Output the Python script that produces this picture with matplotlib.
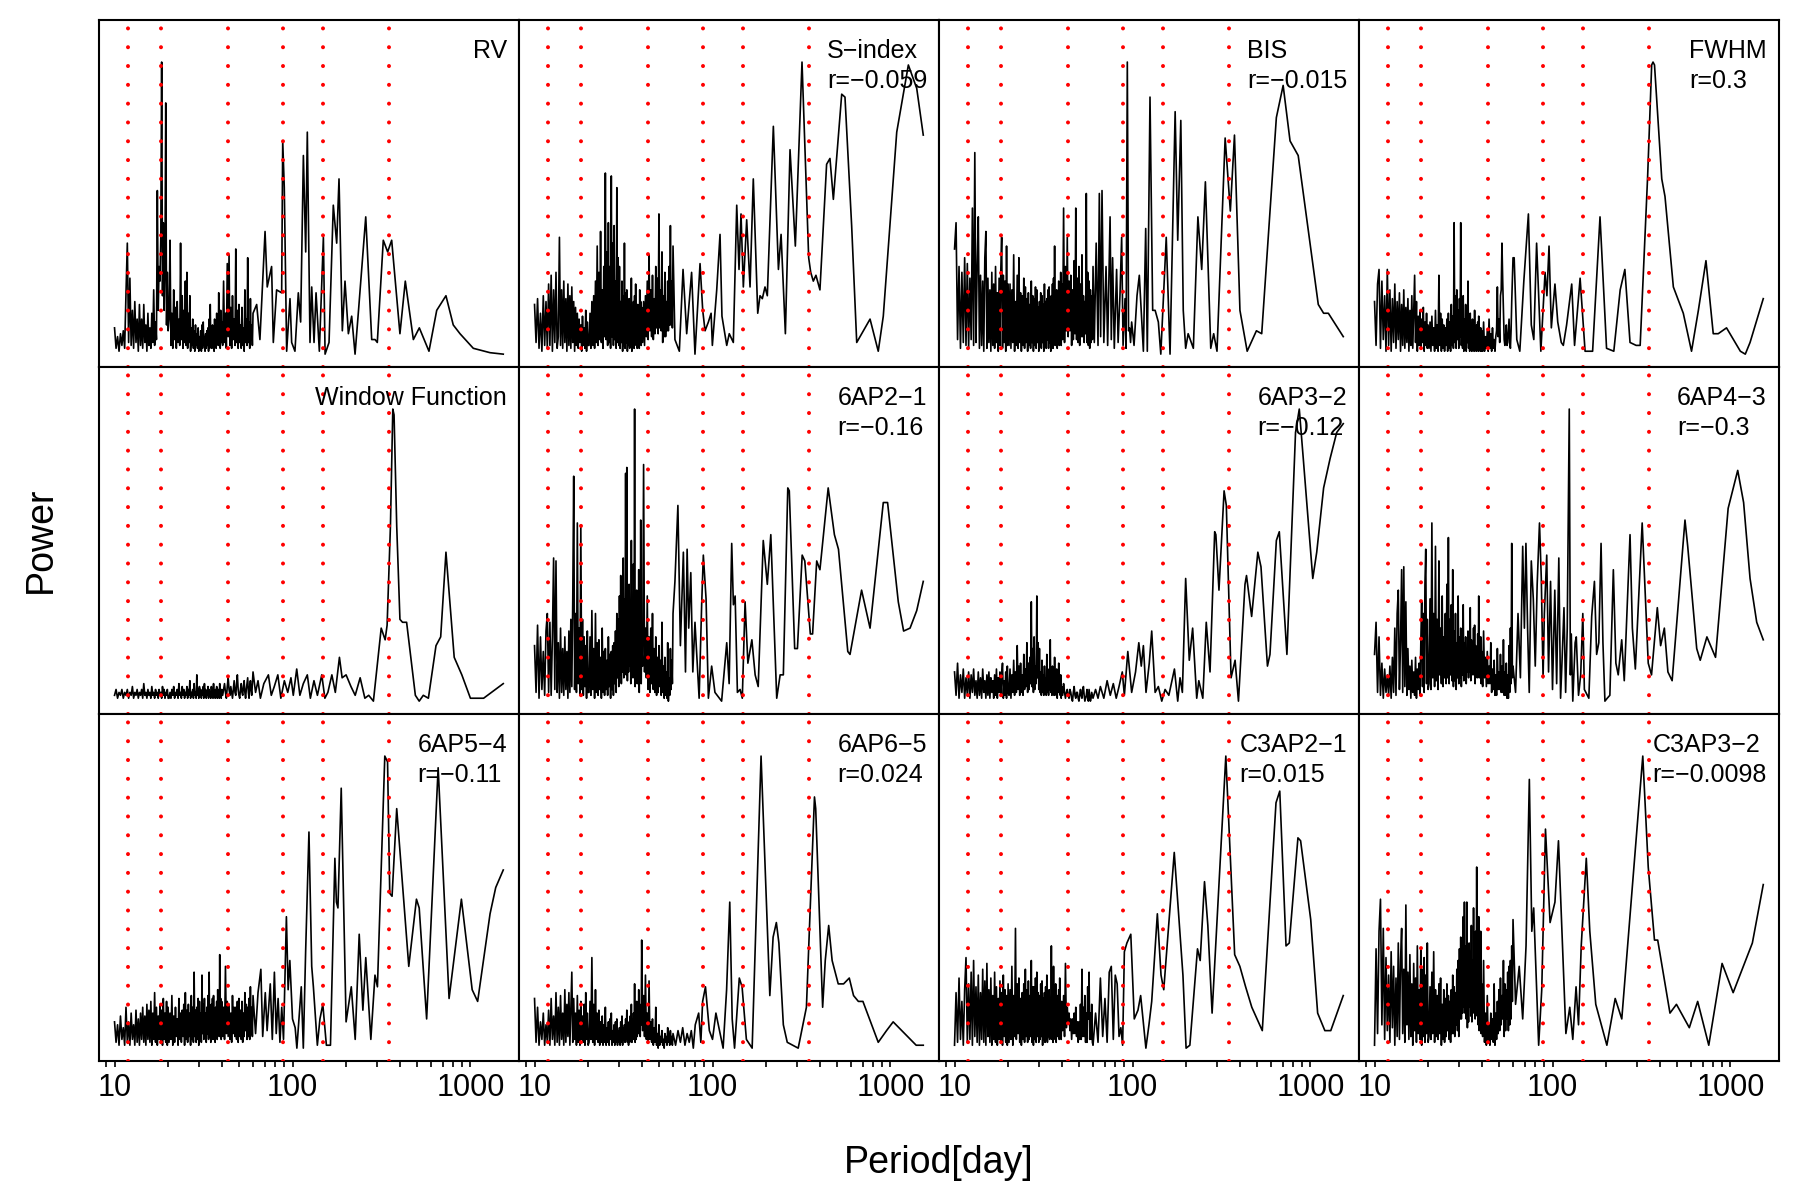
import matplotlib
matplotlib.use("Agg")
import matplotlib.pyplot as plt
from matplotlib.ticker import LogLocator, NullFormatter

plt.rcParams['font.family'] = ['Liberation Sans', 'DejaVu Sans']

# shared short-period grid (days)
fine_p = [10.0, 10.2, 10.4, 10.6, 10.8, 11.0, 11.2, 11.4, 11.6, 11.8,
          12.0, 12.2, 12.4, 12.6, 12.8, 13.0, 13.2, 13.4, 13.6, 13.8,
          14.0, 14.2, 14.4, 14.6, 14.8, 15.0, 15.2, 15.4, 15.6, 15.8,
          16.0, 16.2, 16.4, 16.6, 16.8, 17.0, 17.2, 17.4, 17.6, 17.8,
          18.0, 18.2, 18.4, 18.6, 18.8, 19.0, 19.2, 19.4, 19.6, 19.8, 20.0,
          20.25, 20.5, 20.75, 21.0, 21.25, 21.5, 21.75, 22.0, 22.25, 22.5,
          22.75, 23.0, 23.25, 23.5, 23.75, 24.0, 24.25, 24.5, 24.75, 25.0,
          25.25, 25.5, 25.75, 26.0, 26.25, 26.5, 26.75, 27.0, 27.25, 27.5,
          27.75, 28.0, 28.25, 28.5, 28.75, 29.0, 29.25, 29.5, 29.75, 30.0,
          30.25, 30.5, 30.75, 31.0, 31.25, 31.5, 31.75, 32.0, 32.25, 32.5,
          32.75, 33.0, 33.25, 33.5, 33.75, 34.0, 34.25, 34.5, 34.75, 35.0,
          35.25, 35.5, 35.75, 36.0, 36.25, 36.5, 36.75, 37.0, 37.25, 37.5,
          37.75, 38.0, 38.25, 38.5, 38.75, 39.0, 39.25, 39.5, 39.75, 40.0,
          40.5, 41, 41.5, 42, 42.5, 43, 43.5, 44, 44.5, 45,
          45.5, 46, 46.5, 47, 47.5, 48, 48.5, 49, 49.5, 50,
          50.5, 51, 51.5, 52, 52.5, 53, 53.5, 54, 54.5, 55,
          55.5, 56, 56.5, 57, 57.5, 58, 58.5, 59, 59.5, 60]

# red dotted reference periods
mark_p = [11.9, 18.35, 43.6, 88.0, 148.5, 347]

# power in % of panel maximum
rv_fine = [9, 2, 6, 1, 7, 3, 8, 2, 21, 38,
           4, 26, 3, 15, 2, 18, 4, 12, 1, 17,
           3, 12, 2, 17, 4, 10, 1, 14, 3, 9,
           2, 14, 4, 22, 3, 11, 5, 56, 15, 30,
           25, 40, 100, 20, 45, 15, 30, 86, 10, 28, 8,
           12, 39, 3, 14, 2, 22, 5, 16, 2, 18,
           4, 12, 3, 38, 5, 20, 2, 15, 4, 25,
           3, 28, 2, 14, 4, 20, 1, 9, 3, 12,
           2, 8, 1, 10, 3, 7, 2, 9, 1, 6,
           2, 8, 1, 10, 2, 11, 3, 6, 1, 7,
           2, 8, 3, 9, 1, 12, 2, 17, 3, 9,
           2, 10, 4, 8, 1, 12, 3, 11, 2, 14,
           4, 10, 3, 21, 5, 13, 2, 15, 4, 11,
           3, 25, 4, 14, 2, 31, 6, 34, 3, 16,
           2, 20, 5, 12, 3, 36, 4, 15, 2, 17,
           4, 10, 2, 16, 3, 9, 1, 22, 4, 12,
           3, 33, 4, 11, 2, 19, 5, 10, 3, 14]
rv_long = [(62.9, 17), (65.6, 5), (70.1, 42), (72.1, 23), (76.3, 30), (78.0, 4), (81.4, 22),
           (86.9, 21), (88.1, 73), (89.9, 57), (92.7, 1), (96.8, 19), (98.9, 4), (103.2, 1),
           (107.8, 21), (111.1, 11), (115.1, 68), (118.6, 35), (121.1, 76), (125.4, 4), (128.2, 23),
           (132.1, 4), (135.6, 21), (141.5, 1), (149.1, 40), (152.4, 0), (160.4, 4), (169.5, 51),
           (177.1, 38), (182.5, 60), (190.5, 8), (197.2, 25), (206, 7), (215, 13), (224.6, 0),
           (235.6, 16), (257.9, 47), (278.6, 5), (290.9, 5), (299.5, 4), (323.6, 39), (342.4, 35),
           (360.7, 39), (401.4, 7), (430.2, 25), (477.5, 5), (515.8, 9), (584.4, 1), (646, 15),
           (728, 20), (800, 10), (873, 7), (1037, 2), (1288, 0.5), (1528, 0)]

sidx_fine = [17, 4, 19, 2, 14, 1, 20, 3, 18, 2,
             24, 3, 27, 1, 22, 4, 28, 2, 6, 40,
             3, 22, 2, 25, 4, 19, 1, 24, 3, 20,
             2, 23, 4, 18, 1, 16, 3, 14, 2, 12,
             4, 10, 1, 13, 3, 9, 2, 15, 1, 11, 3,
             3, 14, 2, 18, 3, 20, 2, 25, 4, 37,
             3, 28, 5, 42, 4, 22, 2, 30, 6, 62,
             5, 35, 3, 45, 4, 30, 2, 61, 6, 38,
             3, 44, 5, 25, 2, 57, 4, 33, 3, 30,
             2, 18, 4, 25, 1, 20, 3, 38, 2, 21,
             4, 22, 1, 15, 3, 19, 2, 14, 4, 26,
             1, 16, 3, 18, 2, 20, 4, 24, 3, 15,
             2, 17, 4, 13, 2, 22, 5, 18, 3, 16,
             4, 18, 3, 20, 6, 25, 5, 34, 8, 22,
             6, 27, 5, 19, 7, 30, 9, 26, 7, 48,
             9, 22, 8, 35, 4, 20, 6, 28, 6, 18,
             8, 25, 8, 30, 10, 44, 10, 25, 9, 37]
sidx_long = [(61.5, 5), (65.1, 1), (68.3, 29), (71.6, 7), (76.3, 28), (79.7, 0), (85.1, 31),
             (88.1, 15), (90.8, 8), (94.8, 11), (98.2, 14), (99.8, 3), (105.6, 22), (110.2, 41),
             (113, 13), (120.2, 3), (124.2, 7), (130.9, 4), (136.8, 51), (140.9, 29), (144.6, 48),
             (149, 23), (155.6, 46), (162.5, 23), (169.5, 60), (179.5, 14), (184.9, 20), (190.5, 19),
             (197.2, 23), (203.2, 20), (219.7, 78), (234.6, 29), (242.8, 41), (256.7, 7), (272.6, 70),
             (292, 37), (318.3, 100), (347, 33), (356.3, 28), (368.4, 25), (381.2, 27), (401.4, 22),
             (437.6, 65), (457, 67), (477.5, 53), (532, 89), (555, 88), (605, 44), (646, 4),
             (767.6, 12), (853.5, 1), (911, 13), (1084, 76), (1260, 99), (1404, 91), (1528, 75)]

bis_fine = [36, 45, 5, 30, 2, 28, 4, 33, 3, 31,
            2, 26, 5, 50, 3, 69, 4, 30, 47, 2,
            27, 3, 25, 1, 33, 42, 2, 26, 4, 22,
            1, 28, 3, 24, 2, 30, 4, 21, 1, 26,
            3, 29, 40, 2, 27, 4, 25, 1, 37, 3, 24,
            3, 24, 2, 22, 4, 34, 1, 18, 3, 27,
            2, 33, 4, 21, 1, 20, 3, 26, 2, 23,
            4, 19, 1, 21, 3, 17, 2, 25, 4, 20,
            1, 19, 3, 23, 2, 22, 4, 16, 1, 18,
            3, 21, 2, 20, 4, 17, 1, 24, 3, 18,
            2, 19, 5, 22, 2, 23, 4, 18, 1, 20,
            3, 24, 2, 26, 5, 37, 3, 20, 4, 22,
            2, 19, 6, 25, 3, 21, 5, 28, 3, 24,
            5, 50, 4, 30, 8, 40, 6, 25, 8, 27,
            3, 22, 5, 32, 7, 50, 5, 26, 4, 30,
            3, 24, 6, 34, 6, 20, 4, 18, 7, 55,
            4, 28, 3, 25, 2, 22, 4, 20, 5, 30]
bis_long = [(61, 4), (62.5, 38), (64, 3), (65.1, 55), (66.2, 6), (67.4, 56), (69, 4), (71, 30),
            (72.5, 3), (74.8, 47), (76, 5), (77.3, 33), (79, 2), (81.4, 29), (83, 4), (85, 20),
            (86.9, 40), (88.5, 3), (90.8, 19), (92, 2), (93.5, 100), (95, 8), (96.2, 9), (97.5, 4),
            (98.9, 11), (102, 3), (106, 20), (109.2, 27), (115.1, 1), (118.6, 43), (121.1, 1),
            (125.4, 88), (129.8, 15), (134, 15), (139.7, 11), (144.2, 0), (154.7, 40), (162.5, 0),
            (173.6, 83), (179.5, 39), (186.8, 80), (192.8, 15), (198.9, 2), (205.4, 7), (219.7, 2),
            (233, 47), (244.8, 29), (256.7, 59), (275.2, 2), (285.8, 7), (298.3, 1), (331.5, 74),
            (354.5, 49), (374, 75), (401.4, 15), (440.8, 1), (496.8, 8), (532, 7), (643, 81),
            (702, 92), (767.6, 73), (853, 68), (1106, 17), (1185, 14), (1260, 14), (1528, 6)]

fwhm_fine = [18, 3, 24, 29, 2, 25, 5, 20, 1, 29,
             3, 22, 1, 19, 4, 24, 2, 18, 5, 21,
             1, 17, 3, 22, 2, 16, 4, 19, 1, 15,
             3, 20, 2, 14, 27, 4, 18, 1, 13, 3,
             15, 2, 12, 4, 16, 1, 11, 3, 14, 2, 10,
             2, 11, 1, 13, 3, 9, 1, 15, 2, 10,
             1, 27, 3, 14, 1, 12, 2, 10, 1, 9,
             3, 12, 1, 14, 2, 11, 1, 17, 3, 13,
             2, 45, 4, 20, 2, 22, 5, 15, 2, 19,
             6, 45, 3, 18, 2, 20, 1, 12, 3, 17,
             1, 14, 4, 25, 2, 11, 1, 14, 3, 10,
             1, 12, 2, 9, 1, 15, 2, 8, 1, 10,
             2, 11, 1, 13, 2, 7, 1, 9, 1, 8,
             1, 11, 1, 6, 2, 8, 1, 12, 2, 7,
             1, 9, 2, 5, 1, 6, 8, 23, 6, 12,
             4, 20, 22, 38, 25, 15, 5, 3, 6, 10,
             3, 4, 8, 12, 4, 2, 8, 18, 26, 33]
fwhm_long = [(60.9, 33), (63, 5), (65.5, 1), (69, 25), (73.2, 48), (76, 10), (78.5, 5), (81.4, 38),
             (86, 1), (90.8, 28), (93, 20), (95.6, 37), (98.5, 9), (103.2, 24), (107, 11), (112, 4),
             (115, 3), (120, 10), (128.2, 24), (133, 3), (142.9, 26), (152.4, 1), (168, 1),
             (184.9, 47), (201.2, 2), (221, 1), (240, 22), (255, 29), (272.6, 4), (295, 3),
             (310.8, 3), (342.4, 61), (360.7, 99), (367, 100), (374.2, 99), (411, 60), (428.5, 54),
             (477.5, 23), (543, 14), (604, 1), (660, 15), (728, 32), (800, 7), (853, 7), (950, 9),
             (1136, 1), (1211, 0), (1288, 4), (1528, 19)]

win_fine = [2, 4, 1, 3, 2, 4, 1, 3, 2, 4,
            1, 3, 2, 5, 1, 3, 2, 4, 1, 3,
            2, 4, 1, 6, 2, 3, 1, 4, 2, 3,
            1, 5, 2, 3, 1, 4, 2, 3, 1, 4,
            2, 3, 1, 5, 2, 4, 1, 3, 2, 4, 1,
            1, 3, 1, 4, 2, 5, 1, 3, 2, 4,
            1, 6, 2, 3, 1, 5, 2, 4, 1, 3,
            2, 5, 1, 4, 2, 7, 1, 3, 2, 4,
            1, 6, 2, 3, 1, 9, 2, 4, 1, 5,
            2, 4, 1, 3, 2, 5, 1, 6, 2, 4,
            1, 3, 2, 5, 1, 4, 2, 3, 1, 5,
            2, 4, 1, 6, 2, 3, 1, 4, 2, 5,
            1, 3, 2, 4, 1, 6, 2, 3, 1, 4,
            2, 4, 6, 3, 1, 5, 8, 4, 2, 5,
            3, 1, 4, 7, 3, 2, 6, 9, 4, 2,
            1, 4, 6, 3, 2, 5, 7, 3, 1, 4,
            6, 8, 3, 1, 5, 7, 4, 2, 6, 10]
win_long = [(62, 3), (64, 7), (66, 1), (69, 6), (73.2, 9), (76, 2), (79, 5), (82.7, 9), (86, 1),
            (90, 7), (94, 3), (98, 8), (101, 2), (105.6, 11), (110, 2), (115, 6), (121.1, 9),
            (126, 1), (132, 7), (138, 2), (146, 9), (152, 1), (158, 3), (166.4, 9), (174, 3),
            (183.5, 15), (190, 8), (200, 9), (213, 5), (225, 2), (239.9, 8), (255, 1), (268, 2),
            (284.8, 0), (315, 25), (331.5, 21), (340, 26), (355, 60), (366, 100), (372, 98),
            (385, 60), (401.4, 28), (415, 27), (437.6, 27), (490, 2), (515, 0), (543, 2), (580, 1),
            (640, 19), (680, 22), (728, 51), (810, 15), (894, 9), (999, 1), (1185, 1), (1528, 6)]

ap21_fine = [19, 3, 26, 1, 22, 4, 17, 2, 24, 30,
             3, 27, 2, 22, 49, 4, 48, 3, 20, 1,
             25, 3, 18, 2, 22, 4, 17, 1, 24, 3,
             28, 5, 35, 77, 4, 30, 3, 61, 6, 25,
             2, 60, 4, 28, 2, 22, 5, 19, 1, 24, 3,
             3, 22, 2, 31, 4, 18, 1, 30, 3, 20,
             2, 21, 4, 15, 1, 25, 3, 17, 2, 18,
             4, 14, 2, 22, 5, 16, 1, 17, 4, 19,
             2, 20, 6, 24, 3, 30, 8, 28, 5, 36,
             9, 43, 6, 32, 10, 49, 8, 35, 12, 78,
             9, 80, 7, 38, 10, 40, 12, 33, 6, 55,
             9, 30, 8, 47, 12, 100, 5, 35, 10, 38,
             6, 28, 10, 45, 3, 30, 8, 62, 6, 20,
             12, 81, 10, 25, 8, 36, 4, 22, 3, 25,
             6, 30, 4, 18, 3, 22, 2, 15, 3, 19,
             5, 14, 2, 27, 3, 12, 1, 15, 2, 10,
             1, 20, 0, 8, 2, 18, 4, 14, 6, 30]
ap21_long = [(61.5, 41), (63.9, 67), (66, 19), (68.6, 51), (70.5, 10), (72, 52), (73.5, 25),
             (75.5, 44), (77.5, 10), (79.7, 27), (84.1, 1), (86.9, 33), (88.8, 50), (92, 35),
             (94.8, 1), (98.9, 12), (103.2, 3), (112.5, 0), (120.2, 20), (124, 6), (128.2, 54),
             (131, 33), (134, 36), (138, 3), (142.9, 4), (147, 1), (152.4, 34), (158, 13),
             (166.4, 21), (173.6, 9), (180.6, 5), (192.8, 55), (203.2, 40), (212.6, 57), (229.5, 1),
             (239.9, 9), (250, 9), (264.8, 73), (270, 72), (289.5, 18), (300, 18), (319, 50),
             (330, 48), (354.5, 23), (365, 23), (385, 48), (401.4, 45), (446.6, 73), (484, 57),
             (510.2, 52), (575.5, 17), (592.4, 16), (688, 38), (767.6, 25), (911, 68), (963, 68),
             (1106, 34), (1185, 24), (1288, 25), (1404, 31), (1528, 41)]

ap32_fine = [10, 2, 13, 1, 9, 3, 11, 1, 8, 2,
             10, 1, 9, 3, 11, 2, 7, 1, 10, 2,
             8, 1, 11, 3, 7, 1, 9, 2, 10, 1,
             8, 3, 7, 1, 9, 2, 11, 1, 8, 3,
             10, 2, 9, 13, 1, 7, 2, 10, 1, 12, 3,
             2, 11, 1, 9, 3, 14, 2, 10, 3, 19,
             4, 12, 2, 13, 3, 9, 2, 16, 4, 11,
             5, 20, 3, 13, 4, 15, 6, 34, 5, 18,
             3, 22, 4, 12, 6, 36, 8, 20, 4, 18,
             3, 10, 2, 14, 3, 9, 2, 12, 4, 8,
             2, 16, 3, 11, 2, 10, 4, 21, 3, 9,
             2, 12, 3, 8, 2, 15, 4, 9, 2, 11,
             1, 7, 3, 13, 3, 6, 2, 9, 1, 5,
             2, 6, 3, 1, 3, 4, 2, 1, 4, 3,
             1, 0, 3, 5, 2, 1, 3, 3, 1, 0,
             2, 4, 2, 1, 4, 5, 2, 0, 1, 2,
             4, 1, 0, 4, 2, 0, 1, 3, 2, 1]
ap32_long = [(62, 4), (64, 1), (66, 5), (69, 1), (72, 7), (75, 2), (78, 6), (81, 1), (84, 5),
             (87.6, 10), (90, 2), (94.1, 17), (98.9, 3), (104, 10), (108.5, 20), (112, 12),
             (115.1, 19), (119.1, 3), (124.2, 13), (128.2, 24), (134, 3), (139.7, 5), (146, 0),
             (152.4, 4), (160, 2), (172, 11), (179.5, 0), (184.9, 8), (190.6, 3), (198.9, 42),
             (208.4, 14), (217.7, 25), (229.5, 1), (235.8, 7), (248.3, 1), (259.6, 27), (272.6, 10),
             (289.5, 58), (294, 57), (306, 38), (327, 72), (336.6, 67), (357.9, 8), (377, 14),
             (393.8, 0), (428.5, 40), (437, 43), (467, 29), (506, 51), (527, 46), (573, 12),
             (592, 16), (643, 55), (668, 58), (737, 16), (824, 92), (865, 100), (911, 83),
             (1030, 42), (1084, 51), (1185, 73), (1288, 83), (1404, 92), (1528, 95)]

ap43_fine = [16, 27, 3, 22, 2, 13, 1, 11, 3, 9,
             2, 12, 1, 15, 3, 25, 2, 30, 38, 4,
             20, 45, 3, 46, 5, 34, 2, 18, 4, 12,
             1, 14, 3, 10, 2, 15, 1, 11, 4, 13,
             2, 20, 34, 5, 30, 3, 40, 52, 6, 28, 4,
             6, 35, 4, 61, 8, 30, 5, 53, 7, 28,
             4, 48, 9, 25, 6, 36, 5, 22, 8, 30,
             6, 40, 8, 56, 6, 28, 9, 33, 7, 45,
             5, 24, 7, 30, 4, 20, 8, 36, 6, 22,
             8, 25, 5, 18, 9, 33, 7, 20, 9, 22,
             6, 17, 10, 24, 8, 19, 10, 32, 7, 21,
             11, 20, 9, 25, 11, 26, 6, 19, 9, 18,
             8, 23, 9, 36, 8, 20, 10, 22, 6, 17,
             5, 24, 8, 15, 5, 17, 6, 12, 6, 20,
             3, 11, 4, 14, 2, 9, 2, 18, 4, 10,
             4, 16, 3, 12, 3, 21, 2, 10, 2, 13,
             1, 9, 1, 19, 3, 25, 6, 54, 8, 12]
ap43_long = [(62, 3), (64, 30), (66, 8), (68, 53), (69.5, 25), (70.9, 54), (72.5, 24), (74, 3),
             (76, 48), (78, 35), (80, 12), (82, 40), (84.5, 61), (86.5, 42), (88.5, 8), (90, 30),
             (92.8, 50), (95, 10), (97.5, 41), (100, 4), (103, 38), (105.5, 6), (108.5, 49),
             (111, 1), (113, 13), (116, 32), (118.5, 3), (121, 25), (124.2, 100), (126, 9),
             (127.5, 23), (130, 0), (134, 20), (136, 22), (140, 2), (144, 9), (148, 30), (151, 4),
             (160, 1), (166, 29), (172, 41), (177, 16), (182, 20), (187.4, 54), (192, 20), (197, 0),
             (203, 1), (210, 2), (219.7, 45), (227, 13), (234, 9), (244.8, 21), (253, 7),
             (272.6, 57), (281, 25), (292, 11), (319, 61), (330, 40), (345, 13), (360, 9),
             (388, 32), (405, 19), (425, 25), (445, 10), (470, 7), (555, 62), (575, 53), (646, 18),
             (676, 14), (737, 22), (824, 15), (970, 66), (1098, 79), (1185, 68), (1288, 42),
             (1404, 27), (1528, 21)]

ap54_fine = [9, 2, 8, 1, 11, 3, 7, 1, 14, 2,
             9, 1, 12, 3, 8, 1, 13, 2, 10, 1,
             12, 3, 14, 2, 11, 1, 15, 3, 13, 2,
             16, 1, 12, 3, 19, 2, 14, 1, 11, 3,
             15, 2, 13, 1, 17, 3, 12, 2, 16, 1, 14,
             2, 12, 3, 18, 1, 11, 2, 14, 4, 10,
             1, 17, 3, 12, 2, 13, 4, 15, 1, 19,
             3, 13, 2, 15, 4, 12, 1, 18, 3, 14,
             2, 26, 4, 13, 2, 14, 3, 17, 1, 16,
             4, 12, 2, 25, 5, 15, 3, 17, 4, 12,
             2, 14, 5, 18, 3, 26, 4, 13, 2, 15,
             5, 17, 3, 18, 5, 13, 2, 14, 4, 16,
             3, 20, 6, 15, 4, 32, 5, 17, 3, 16,
             4, 14, 3, 28, 5, 16, 4, 15, 3, 12,
             2, 18, 5, 14, 4, 14, 3, 16, 2, 17,
             4, 13, 3, 16, 2, 12, 4, 19, 6, 15,
             3, 14, 4, 17, 3, 21, 5, 14, 4, 18]
ap54_long = [(62, 5), (64, 19), (66.4, 27), (68, 4), (70.3, 19), (72, 6), (75, 22), (77, 3),
             (79.1, 26), (81, 5), (83, 17), (85, 2), (87, 14), (89, 3), (92.4, 45), (94.5, 20),
             (96.6, 30), (100, 10), (103.5, 7), (105.8, 0), (112, 21), (115, 0), (118.5, 33),
             (123.7, 74), (128.2, 28), (131, 21), (137.9, 1), (142.6, 10), (148, 15), (155, 1),
             (163.4, 1), (173, 65), (176.5, 50), (180, 48), (187.8, 89), (193, 54), (200, 9),
             (213.9, 21), (225, 3), (237, 39), (248.5, 13), (258, 31), (275.5, 3), (290.6, 25),
             (300, 21), (330, 100), (342, 98), (351.8, 53), (362.5, 52), (385, 82), (450, 28),
             (497, 51), (515, 48), (567, 10), (658, 96), (758, 17), (889, 51), (1022, 20),
             (1097, 16), (1288, 46), (1386, 55), (1528, 61)]

ap65_fine = [17, 2, 14, 1, 9, 3, 12, 1, 8, 2,
             13, 1, 17, 3, 11, 1, 19, 2, 14, 1,
             18, 3, 12, 1, 20, 2, 15, 4, 19, 1,
             14, 26, 2, 17, 3, 12, 1, 18, 2, 13,
             1, 16, 3, 11, 2, 15, 1, 19, 3, 12, 1,
             2, 16, 3, 31, 2, 15, 1, 20, 3, 12,
             2, 13, 1, 9, 2, 11, 1, 8, 2, 14,
             1, 7, 2, 9, 1, 10, 3, 12, 1, 6,
             2, 8, 1, 9, 2, 10, 1, 6, 2, 7,
             1, 9, 2, 11, 1, 7, 3, 8, 2, 10,
             3, 13, 2, 8, 1, 9, 2, 11, 3, 15,
             2, 10, 3, 12, 4, 22, 2, 14, 3, 16,
             4, 12, 5, 20, 6, 15, 4, 14, 8, 37,
             6, 18, 4, 25, 3, 12, 2, 23, 3, 9,
             2, 10, 1, 7, 2, 14, 1, 5, 0, 8,
             1, 4, 2, 6, 1, 3, 0, 5, 2, 4,
             1, 7, 2, 5, 1, 6, 2, 4, 1, 5]
ap65_long = [(62, 1), (64, 6), (66, 2), (68, 7), (70, 1), (72, 5), (74, 2), (76, 6), (78, 0),
             (80, 8), (83.6, 12), (86, 2), (88, 16), (91.3, 21), (96, 6), (100, 3), (104.5, 12),
             (114.7, 0), (120, 20), (125, 50), (129, 10), (133, 0), (141.4, 24), (146.6, 21),
             (155, 3), (167, 0), (187.4, 100), (209.9, 18), (219, 38), (228.4, 43), (236, 36),
             (250, 8), (263, 2), (303, 0), (337, 14), (374, 86), (380, 82), (415.7, 14), (430, 30),
             (449.5, 42), (470, 30), (508.6, 22), (545, 22), (586.7, 24), (620, 18), (660, 16),
             (700, 16), (853.5, 2), (950, 6), (1035, 9), (1200, 5), (1394, 1), (1528, 1)]

c21_fine = [1, 19, 2, 24, 3, 16, 1, 20, 31, 2,
            22, 3, 26, 1, 30, 4, 21, 2, 25, 1,
            19, 3, 27, 2, 23, 1, 29, 4, 20, 2,
            24, 1, 18, 3, 26, 2, 21, 1, 17, 3,
            23, 2, 19, 1, 25, 4, 20, 2, 18, 1, 22,
            2, 20, 3, 28, 1, 18, 4, 41, 3, 22,
            5, 24, 2, 17, 1, 19, 3, 22, 2, 27,
            4, 20, 2, 23, 3, 18, 4, 30, 2, 21,
            1, 21, 3, 24, 2, 26, 4, 19, 2, 18,
            3, 22, 4, 23, 1, 17, 3, 19, 2, 21,
            3, 25, 2, 18, 4, 20, 3, 16, 4, 35,
            3, 21, 2, 28, 5, 19, 3, 22, 2, 17,
            4, 18, 6, 20, 3, 24, 5, 15, 3, 16,
            6, 18, 4, 29, 7, 14, 9, 12, 6, 10,
            3, 10, 5, 12, 5, 14, 4, 9, 2, 9,
            3, 15, 3, 27, 4, 14, 4, 18, 2, 12,
            2, 21, 10, 26, 3, 12, 3, 15, 2, 1]
c21_long = [(62, 12), (64, 2), (66, 24), (68, 4), (70, 17), (72, 2), (74, 26), (76, 28), (78, 3),
            (80, 25), (82, 22), (84, 4), (86, 7), (88, 1), (90, 33), (93, 36), (97.8, 39),
            (102.3, 10), (107.3, 13), (111.1, 18), (118.9, 0), (123.7, 8), (128.2, 16),
            (137.9, 46), (144.6, 25), (149.8, 20), (171.6, 67), (192, 25), (200, 0), (210, 1),
            (231.8, 34), (240, 30), (253.8, 57), (265, 42), (280, 12), (334.4, 100), (375, 32),
            (401, 28), (432, 21), (468, 14), (536, 6), (640, 84), (672, 88), (728.7, 35),
            (760, 36), (850, 72), (880, 71), (1003, 44), (1097, 12), (1204, 6), (1300, 6),
            (1528, 18)]

c32_fine = [1, 34, 5, 40, 51, 8, 41, 3, 31, 6,
            25, 2, 33, 7, 28, 1, 24, 4, 36, 3,
            30, 41, 5, 27, 2, 49, 8, 26, 3, 32,
            4, 22, 1, 29, 6, 24, 2, 35, 5, 20,
            3, 34, 1, 27, 4, 31, 2, 25, 5, 36, 2,
            4, 21, 3, 26, 5, 33, 2, 20, 4, 18,
            3, 22, 5, 24, 1, 15, 3, 20, 2, 17,
            4, 22, 6, 18, 3, 16, 2, 20, 5, 25,
            5, 21, 4, 19, 8, 27, 6, 30, 4, 34,
            10, 38, 10, 30, 12, 45, 14, 50, 12, 35,
            10, 50, 7, 30, 9, 36, 14, 33, 11, 42,
            9, 30, 12, 48, 15, 35, 10, 40, 14, 62,
            11, 35, 8, 45, 6, 28, 8, 40, 5, 22,
            4, 30, 2, 12, 1, 18, 2, 8, 1, 12,
            3, 10, 2, 22, 1, 12, 3, 16, 5, 20,
            6, 24, 8, 18, 10, 30, 4, 22, 6, 20,
            10, 26, 6, 28, 8, 30, 10, 35, 16, 44]
c32_long = [(62, 15), (65, 28), (68, 10), (71, 35), (74.1, 92), (76.5, 40), (78.4, 48),
            (83.6, 1), (87, 20), (91.3, 75), (96.9, 43), (103.2, 50), (108, 71), (113, 40),
            (118.9, 5), (125, 14), (130, 3), (135.6, 21), (140, 8), (145, 35), (154.8, 65),
            (162, 40), (175, 15), (202, 1), (225, 17), (245, 10), (321.5, 100), (345, 62),
            (374, 37), (390, 37), (457, 12), (497, 15), (587, 7), (654, 16), (755, 1), (897, 29),
            (1035, 19), (1327, 36), (1528, 56)]

panels = [(["RV"], rv_fine, rv_long),
          (["S\u2212index", "r=\u22120.059"], sidx_fine, sidx_long),
          (["BIS", "r=\u22120.015"], bis_fine, bis_long),
          (["FWHM", "r=0.3"], fwhm_fine, fwhm_long),
          (["Window Function"], win_fine, win_long),
          (["6AP2\u22121", "r=\u22120.16"], ap21_fine, ap21_long),
          (["6AP3\u22122", "r=\u22120.12"], ap32_fine, ap32_long),
          (["6AP4\u22123", "r=\u22120.3"], ap43_fine, ap43_long),
          (["6AP5\u22124", "r=\u22120.11"], ap54_fine, ap54_long),
          (["6AP6\u22125", "r=0.024"], ap65_fine, ap65_long),
          (["C3AP2\u22121", "r=0.015"], c21_fine, c21_long),
          (["C3AP3\u22122", "r=\u22120.0098"], c32_fine, c32_long)]

fig = plt.figure(figsize=(18, 12), dpi=100)
renderer = fig.canvas.get_renderer()

# panel grid in pixels: left 99, bottom 139, each 420 x 347
left, bottom, pw_, ph_ = 99 / 1800, 139 / 1200, 420 / 1800, 347 / 1200

for k, (label, fine, long_) in enumerate(panels):
    assert len(fine) == len(fine_p), (label, len(fine))
    r, c = divmod(k, 4)
    ax = fig.add_axes([left + c * pw_, bottom + (2 - r) * ph_, pw_, ph_])
    per = fine_p + [p for p, _ in long_]
    pw = fine + [v for _, v in long_]
    ax.plot(per, pw, color='black', lw=1.2, zorder=2)
    for p in mark_p:
        ax.axvline(p, color='red', lw=2.9, linestyle=(0, (0.01, 4.66)),
                   dash_capstyle='round', zorder=3)
    ax.set_xscale('log')
    ax.set_xlim(8.18, 1873)
    ax.set_ylim(-4.4, 114.4)
    ax.set_yticks([])
    for s in ax.spines.values():
        s.set_linewidth(1.5)
    if r == 2:
        ax.set_xticks([10, 100, 1000])
        ax.set_xticklabels(['10', '100', '1000'])
        ax.xaxis.set_minor_locator(LogLocator(base=10, subs=range(2, 10)))
        ax.xaxis.set_minor_formatter(NullFormatter())
        ax.tick_params(axis='x', which='both', direction='out', length=4.3,
                       width=1.2, labelsize=22, pad=4)
    else:
        ax.tick_params(axis='x', which='both', bottom=False, labelbottom=False)

    # legend-like label block, left aligned, anchored top right
    txts = []
    for i, s in enumerate(label):
        t = ax.text(0, 1 - (38.3 + 29.4 * i) / 347, s, transform=ax.transAxes,
                    fontsize=18, ha='left', va='baseline', zorder=5)
        txts.append(t)
    w = max(t.get_window_extent(renderer).width for t in txts)
    for t in txts:
        t.set_x(1 - (12 + w) / 420)

fig.text(939 / 1800, 1 - 1163 / 1200, 'Period[day]', ha='center', va='center', fontsize=27)
fig.text(41 / 1800, 1 - 540 / 1200, 'Power', ha='center', va='center', fontsize=27, rotation=90)

fig.savefig('out.png', dpi=100)
